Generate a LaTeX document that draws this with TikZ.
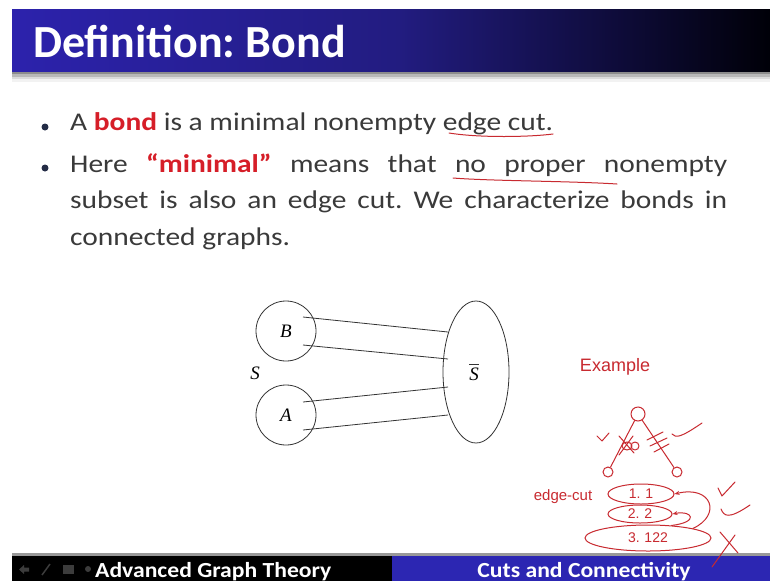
\documentclass[tikz,border=0pt]{standalone}
\usepackage{fontspec}
\setmainfont{Carlito}
\newfontfamily\dserif{Liberation Serif}
\newfontfamily\handf{Liberation Sans}
\usetikzlibrary{arrows.meta,shapes.geometric,calc}
\definecolor{barblue}{RGB}{44,34,172}
\definecolor{barmid}{RGB}{34,28,128}
\definecolor{barend}{RGB}{0,0,8}
\definecolor{footblue}{RGB}{44,38,178}
\definecolor{hred}{RGB}{214,30,40}
\definecolor{hand}{RGB}{200,42,48}
\definecolor{txt}{RGB}{58,58,58}
\definecolor{bulletc}{RGB}{36,44,70}
\definecolor{iconc}{RGB}{60,60,60}
\frenchspacing
\tikzset{
  titletext/.style={anchor=base west,text=white,inner sep=0,font=\bfseries\fontsize{46}{52}\selectfont},
  bodytext/.style={anchor=base west,text=txt,inner sep=0,font=\fontsize{25.5}{36.5}\selectfont},
  bulletdot/.style={circle,fill=bulletc,inner sep=0,minimum size=7pt},
  footertext/.style={text=white,inner sep=0,font=\bfseries\fontsize{21.5}{24}\selectfont},
  setnode/.style={circle,draw=black!80,line width=0.8pt,inner sep=0,minimum size=60pt,font=\dserif\itshape\fontsize{19}{22}\selectfont},
  setlabel/.style={inner sep=0,font=\dserif\itshape\fontsize{19}{22}\selectfont},
  cutedge/.style={draw=black!80,line width=0.8pt},
  handline/.style={draw=hand,line width=1pt,line cap=round,line join=round},
  handtext/.style={text=hand,inner sep=0,font=\handf\fontsize{15}{17}\selectfont},
  handellipse/.style={ellipse,draw=hand,line width=1pt,inner sep=0,text=hand,font=\handf\fontsize{14}{16}\selectfont},
  vertex/.style={circle,draw=hand,line width=1pt,inner sep=0},
}
\begin{document}
\begin{tikzpicture}[x=1pt,y=-1pt]
\useasboundingbox (0,0) rectangle (770,581);
\fill[white] (0,0) rectangle (770,581);
% top bar
\shade[left color=barblue,right color=barmid] (12,9) rectangle (400,72);
\shade[left color=barmid,right color=barend] (399.5,9) rectangle (770,72);
\fill[black!45] (12,72) rectangle (770,74);
\fill[black!28] (12,74) rectangle (770,76.5);
\fill[black!14] (12,76.5) rectangle (770,79);
\fill[black!5] (12,79) rectangle (770,82);
\node[titletext] (title) at (33,57) {Definition: Bond};
% bullets
\node[bulletdot] (d1) at (45,127) {};
\node[bulletdot] (d2) at (45,168) {};
\node[bodytext] (t1) at (70,130.5) {\scalebox{1.155}[1]{A \textcolor{hred}{\textbf{bond}} is a minimal nonempty edge cut.}};
\node[bodytext] (t2) at (70,172) {\scalebox{1.155}[1]{\parbox[t]{568.8pt}{\hyphenpenalty=10000 \spaceskip=0.23em plus 1em minus 0.05em\relax Here \textcolor{hred}{\textbf{“minimal”}} means that no proper nonempty\linebreak subset is also an edge cut. We characterize bonds in\linebreak connected graphs.}}};
% handwritten underlines
\draw[handline] (449,133) .. controls (480,138) and (530,137) .. (553,134);
\draw[handline] (453,178) .. controls (490,181) and (570,181) .. (617,184);
% diagram
\node[setnode] (B) at (286,331) {B};
\node[setnode] (A) at (286,415) {A};
\node[ellipse,draw=black!80,line width=0.8pt,minimum width=66pt,minimum height=142pt,inner sep=0] (Sb) at (476,372) {};
\node[setlabel] (S) at (255,373) {S};
\node[setlabel] (Sl) at (474,374) {S};
\draw[black!80,line width=0.7pt] ($(Sl.north west)+(0,-3)$) -- ($(Sl.north east)+(0,-3)$);
\draw[cutedge] ($(B)+(17,-14)$) -- ($(Sb)+(-28,-40)$);
\draw[cutedge] ($(B)+(17,14)$) -- ($(Sb)+(-28,-13)$);
\draw[cutedge] ($(A)+(17,-13)$) -- ($(Sb)+(-28,15)$);
\draw[cutedge] ($(A)+(17,15)$) -- ($(Sb)+(-28,43)$);
% footer
\fill[black!40] (12,553) rectangle (770,555.5);
\fill[black] (12,555.5) rectangle (392,581);
\fill[footblue] (392,555.5) rectangle (770,581);
\fill[iconc] (19,569.5) -- (24,565) -- (24,567.5) -- (29,567.5) -- (29,571.5) -- (24,571.5) -- (24,574) -- cycle;
\draw[iconc,line width=1.5pt] (42,575) -- (50,564);
\fill[iconc] (63,565) rectangle (74,574);
\fill[iconc] (88,569) circle (3);
\node[footertext,anchor=base west] (f1) at (95,577) {\scalebox{1.1}[1]{Advanced Graph Theory}};
\node[footertext,anchor=base] (f2) at (584,577) {\scalebox{1.1}[1]{Cuts and Connectivity}};
% handwritten example
\node[handtext,font=\handf\fontsize{18}{20}\selectfont] (ex) at (615,367) {Example};
\node[vertex,minimum size=14pt] (v0) at (638,414) {};
\node[vertex,minimum size=10pt] (v1) at (608,472) {};
\node[vertex,minimum size=10pt] (v2) at (677,472) {};
\draw[handline] (v0) -- (v1);
\draw[handline] (v0) -- (v2);
% marks on left edge
\draw[handline] (619,436) -- (634,453);
\draw[handline] (633,436) -- (619,455);
\draw[handline] (627,446) ellipse (5 and 4);
\draw[handline] (635,446) ellipse (4 and 4);
\draw[handline] (597,436) -- (602,441) -- (609,433);
% marks on right edge
\draw[handline] (647,440) -- (663,432);
\draw[handline] (650,446) -- (667,438);
\draw[handline] (654,452) -- (669,444);
\draw[handline] (672,434) .. controls (676,438) and (680,438) .. (702,423);
% edge cuts
\node[handtext] (ec) at (563,497) {edge-cut};
\node[handellipse,minimum width=66pt,minimum height=20pt] (e1) at (641,494) {1.\,\,1};
\node[handellipse,minimum width=64pt,minimum height=18pt] (e2) at (640,514) {2.\,\,2};
\node[handellipse,minimum width=126pt,minimum height=26pt] (e3) at (648,538) {3.\,\,122};
\draw[handline,-{Stealth[length=5pt,width=4pt]}] (e3.12) .. controls (722,515) and (712,485) .. (e1.east);
\draw[handline,-{Stealth[length=5pt,width=4pt]}] (e3.28) .. controls (700,522) and (692,510) .. (e2.east);
% checks and cross
\draw[handline] (718,488) -- (722,496) -- (735,482);
\draw[handline] (721,509) .. controls (724,516) and (728,520) .. (750,505);
\draw[handline] (720,532) -- (738,553);
\draw[handline] (735,535) -- (712,567);
\end{tikzpicture}
\end{document}
